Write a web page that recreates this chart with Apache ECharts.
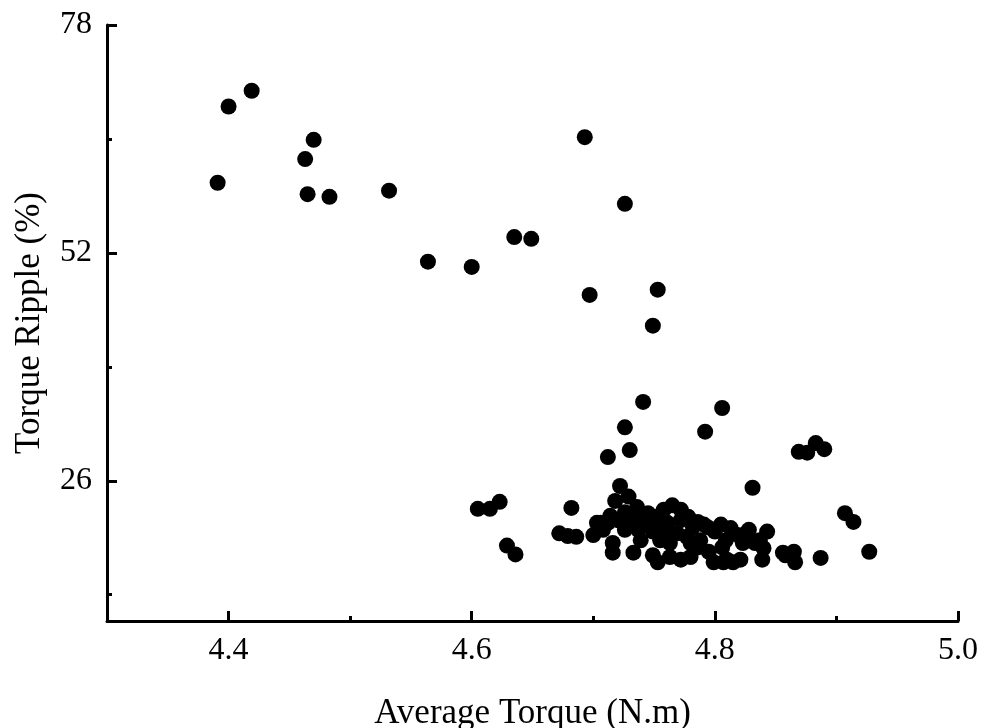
<!DOCTYPE html>
<html>
<head>
<meta charset="utf-8">
<script src="https://cdn.jsdelivr.net/npm/echarts@6/dist/echarts.min.js"></script>
<style>
  html, body { margin: 0; padding: 0; background: #fff; }
  #chart { width: 992px; height: 728px; }
</style>
</head>
<body>
<div id="chart"></div>
<script>
  // average torque (N.m) of each design
  const avgTorque = [
    4.391, 4.400, 4.419, 4.463, 4.470, 4.465, 4.483, 4.532, 4.564, 4.600,
    4.635, 4.649, 4.693, 4.726, 4.697, 4.753, 4.749, 4.741, 4.806, 4.726,
    4.792, 4.730, 4.712, 4.869, 4.876, 4.883, 4.890, 4.831, 4.907, 4.914,
    4.927, 4.887,
    4.605, 4.615, 4.623, 4.629, 4.636, 4.682, 4.672, 4.679, 4.686, 4.700,
    4.706, 4.712, 4.722, 4.718, 4.729, 4.736, 4.745, 4.765, 4.772, 4.720,
    4.730, 4.741, 4.753, 4.761, 4.782, 4.749, 4.758, 4.769, 4.777, 4.794,
    4.800, 4.716, 4.716, 4.733, 4.749, 4.753, 4.763, 4.772, 4.786, 4.795,
    4.799, 4.807, 4.815, 4.819, 4.827, 4.843, 4.823, 4.833, 4.839, 4.856,
    4.865, 4.866, 4.703, 4.772, 4.791, 4.806, 4.810, 4.858, 4.828,
    4.714, 4.726, 4.739, 4.751, 4.778, 4.786, 4.805, 4.813, 4.755, 4.763,
    4.780, 4.788, 4.809, 4.739, 4.726, 4.737, 4.837, 4.780, 4.821, 4.840,
    4.708, 4.758
  ]
  // torque ripple (%) of each design
  const torqueRipple = [
    60.0, 68.7, 70.5, 62.7, 64.9, 58.7, 58.4, 59.1, 51.0, 50.4,
    53.8, 53.6, 65.2, 57.6, 47.2, 47.8, 43.7, 35.0, 34.3, 32.1,
    31.6, 29.5, 28.7, 29.3, 29.2, 30.3, 29.6, 25.2, 22.3, 21.3,
    17.9, 17.2,
    22.8, 22.8, 23.6, 18.6, 17.6, 22.9, 20.0, 19.7, 19.6, 19.8,
    21.2, 21.2, 25.4, 23.7, 24.2, 23.0, 22.3, 23.2, 22.7, 21.5,
    21.5, 21.2, 21.0, 21.2, 20.7, 20.2, 20.0, 20.0, 19.6, 20.7,
    20.2, 18.9, 17.8, 17.8, 17.5, 16.7, 17.3, 17.0, 18.4, 17.9,
    16.7, 16.7, 16.7, 19.8, 20.2, 20.2, 18.9, 18.9, 17.0, 17.8,
    17.9, 16.7, 21.2, 21.5, 21.0, 18.4, 17.0, 17.5, 20.4,
    22.0, 22.4, 22.1, 21.9, 21.9, 21.3, 21.0, 20.6, 19.2, 18.9,
    18.9, 19.2, 19.2, 19.2, 20.4, 20.4, 19.2, 17.3, 17.0, 18.3,
    20.4, 22.7
  ]
  const xMajorTicks = [4.4, 4.6, 4.8, 5.0]
  const xMinorTicks = [4.5, 4.7, 4.9]
  const yMajorTicks = [26, 52, 78]
  const yMinorTicks = [13, 39, 65]

  const points = avgTorque.map((x, i) => [x, torqueRipple[i]])
  const font = 'Liberation Serif, Times New Roman, serif'

  let chart = echarts.init(document.getElementById('chart'))
  chart.setOption({
    animation: false,
    grid: { left: 107, right: 34, top: 25, bottom: 107, outerBoundsMode: 'none', containLabel: false },
    xAxis: [
      {
        type: 'value',
        min: 4.3,
        max: 5.0,
        name: 'Average Torque (N.m)',
        nameLocation: 'middle',
        nameGap: 75,
        nameTextStyle: { fontFamily: font, fontSize: 35, color: '#000' },
        axisLine: { lineStyle: { color: '#000', width: 3 } },
        axisTick: { inside: true, length: 10, customValues: xMajorTicks, lineStyle: { color: '#000', width: 3 } },
        axisLabel: {
          customValues: xMajorTicks,
          margin: 14,
          fontFamily: font, fontSize: 32, color: '#000',
          formatter: v => v.toFixed(1)
        },
        splitLine: { show: false }
      },
      {
        // minor ticks only
        type: 'value',
        position: 'bottom',
        min: 4.3,
        max: 5.0,
        axisLine: { show: false },
        axisTick: { inside: true, length: 5, customValues: xMinorTicks, lineStyle: { color: '#000', width: 3 } },
        axisLabel: { show: false },
        splitLine: { show: false }
      }
    ],
    yAxis: [
      {
        type: 'value',
        min: 10,
        max: 78,
        name: 'Torque Ripple (%)',
        nameLocation: 'middle',
        nameGap: 60,
        nameTextStyle: { fontFamily: font, fontSize: 35, color: '#000' },
        axisLine: { lineStyle: { color: '#000', width: 3 } },
        axisTick: { inside: true, length: 10, customValues: yMajorTicks, lineStyle: { color: '#000', width: 3 } },
        axisLabel: { customValues: yMajorTicks, margin: 15, fontFamily: font, fontSize: 32, color: '#000' },
        splitLine: { show: false }
      },
      {
        type: 'value',
        position: 'left',
        min: 10,
        max: 78,
        axisLine: { show: false },
        axisTick: { inside: true, length: 5, customValues: yMinorTicks, lineStyle: { color: '#000', width: 3 } },
        axisLabel: { show: false },
        splitLine: { show: false }
      }
    ],
    series: [{
      type: 'scatter',
      data: points,
      symbol: 'circle',
      symbolSize: 16,
      itemStyle: { color: '#000', opacity: 1 }
    }]
  })
</script>
</body>
</html>
